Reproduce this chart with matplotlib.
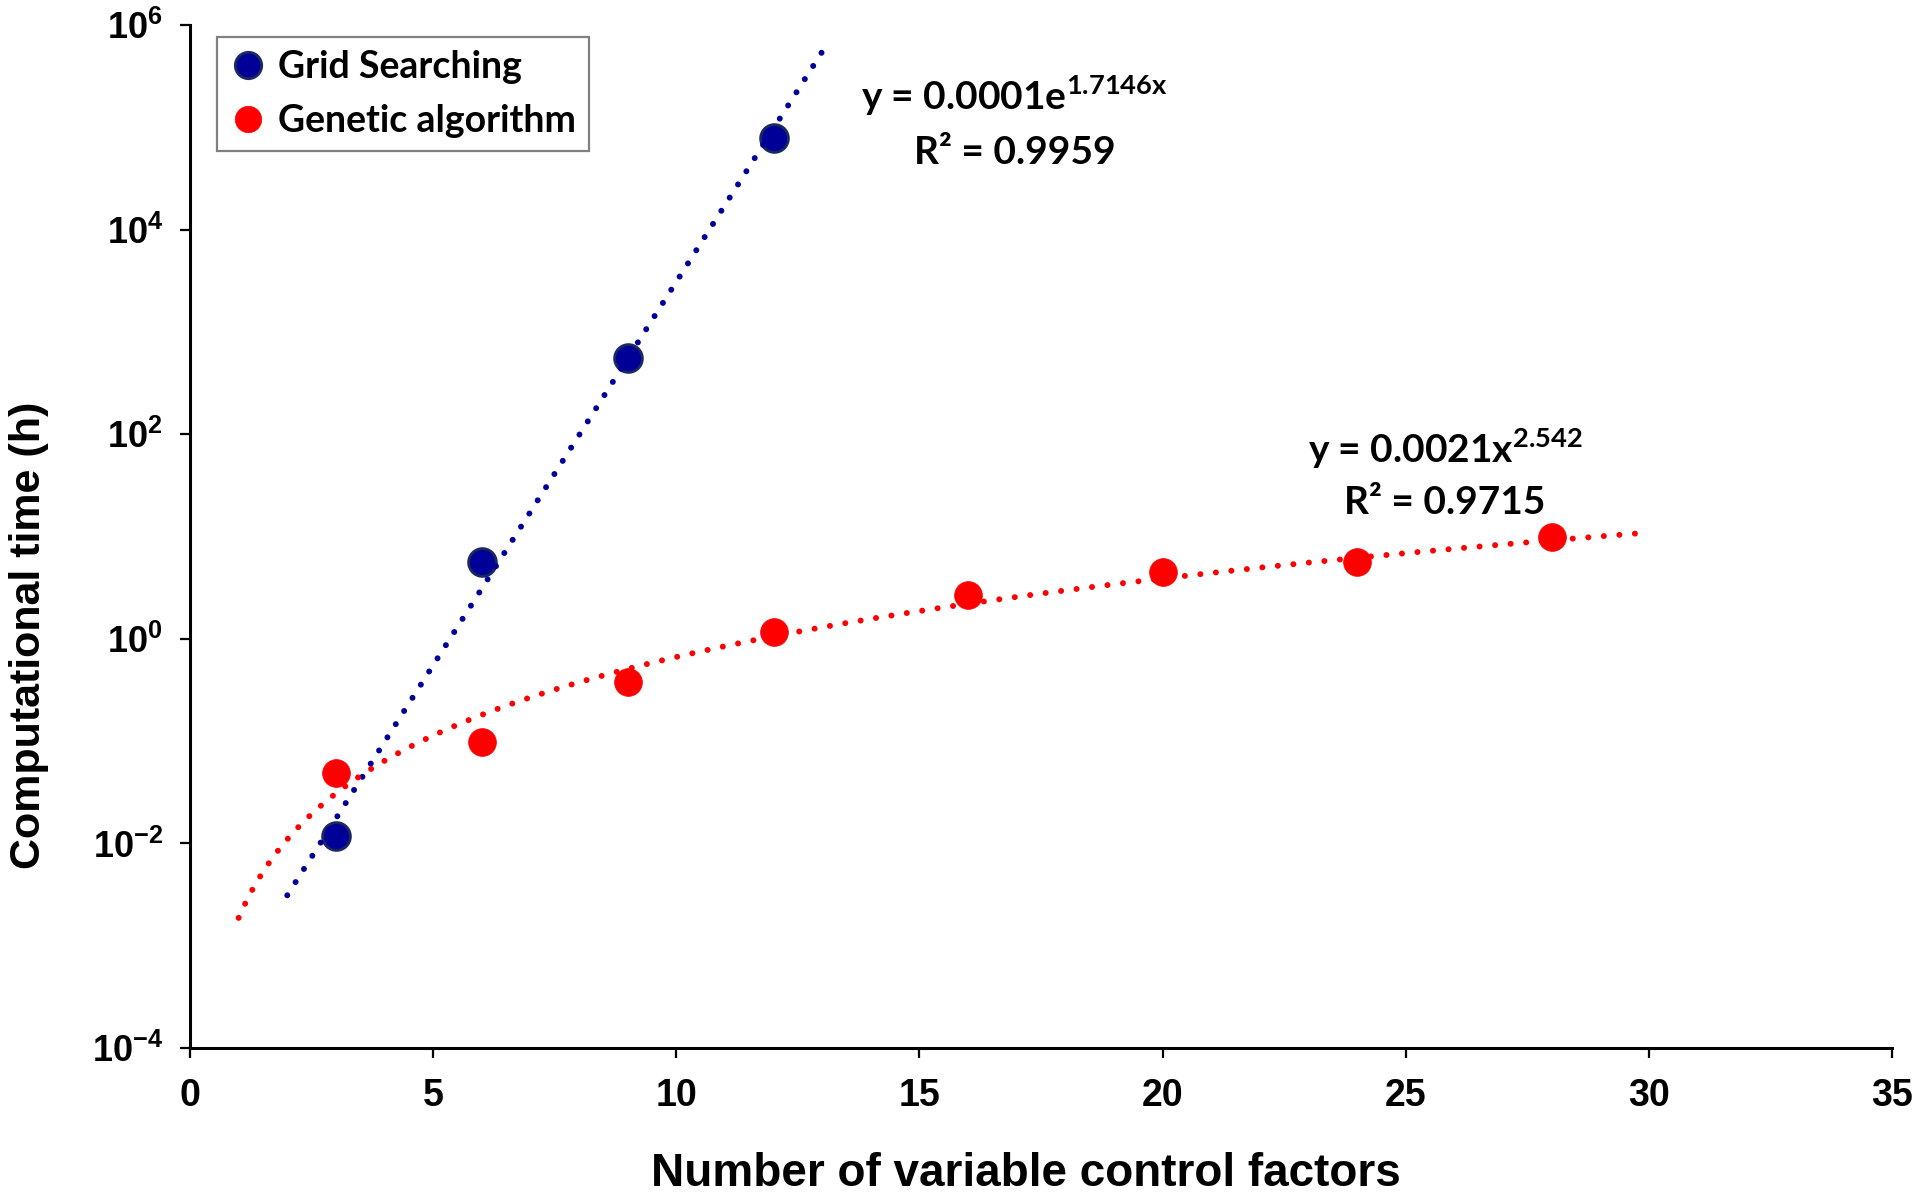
import numpy as np
import matplotlib
matplotlib.use("Agg")
import matplotlib.pyplot as plt
from matplotlib.ticker import NullLocator, LogFormatterSciNotation

# ---- data ----
grid_factors = [3, 6, 9, 12]
grid_hours = [0.0117, 5.6, 560, 79000]

ga_factors = [3, 6, 9, 12, 16, 20, 24, 28]
ga_hours = [0.049, 0.098, 0.38, 1.17, 2.7, 4.5, 5.6, 10.0]

grid_trend_range = (2, 13)
ga_trend_range = (1, 30)

grid_eq = ["y = 0.0001e$^{\\mathdefault{1.7146x}}$", "R\u00b2 = 0.9959"]
ga_eq = ["y = 0.0021x$^{\\mathdefault{2.542}}$", "R\u00b2 = 0.9715"]

x_ticks = [0, 5, 10, 15, 20, 25, 30, 35]
y_ticks = [1e-4, 1e-2, 1e0, 1e2, 1e4, 1e6]

BLUE = "#000099"
BLUE_EDGE = "#1b2a5c"
RED = "#ff0000"
AX_FONT = "Liberation Sans"
EQ_FONT = "Lato"

# ---- trendlines fitted from the points (Excel style) ----
b_exp, ln_a_exp = np.polyfit(grid_factors, np.log(grid_hours), 1)
xg = np.linspace(*grid_trend_range, 200)
yg = np.exp(ln_a_exp) * np.exp(b_exp * xg)

p_pow, ln_a_pow = np.polyfit(np.log(ga_factors), np.log(ga_hours), 1)
xr = np.linspace(*ga_trend_range, 300)
yr = np.exp(ln_a_pow) * xr ** p_pow

fig = plt.figure(figsize=(19.2, 12.02), dpi=100)
ax = fig.add_axes([190 / 1920, 1 - 1048 / 1202, 1702 / 1920, 1023 / 1202])

dots = dict(linestyle=(0, (0.01, 2.6)), linewidth=4.3, dash_capstyle="round", zorder=4)
ax.plot(xg, yg, color=BLUE, **dots)
ax.plot(xr, yr, color=RED, **dots)

ax.plot(grid_factors, grid_hours, "o", ms=20, mfc=BLUE, mec=BLUE_EDGE, mew=2,
        linestyle="none", zorder=3, label="Grid Searching")
ax.plot(ga_factors, ga_hours, "o", ms=20, mfc=RED, mec=RED, mew=0.5,
        linestyle="none", zorder=3, label="Genetic algorithm")

ax.set_yscale("log")
ax.set_xlim(0, 35)
ax.set_ylim(1e-4, 1e6)
ax.set_xticks(x_ticks)
ax.set_yticks(y_ticks)
ax.yaxis.set_minor_locator(NullLocator())
ax.yaxis.set_major_formatter(LogFormatterSciNotation())

for s in ["top", "right"]:
    ax.spines[s].set_visible(False)
for s in ["left", "bottom"]:
    ax.spines[s].set_linewidth(2.2)
    ax.spines[s].set_color("black")

ax.tick_params(axis="both", direction="out", length=7.5, width=1.6, color="black")
ax.tick_params(axis="x", pad=14, labelsize=27)
ax.tick_params(axis="y", pad=12, labelsize=26)
for lab in ax.get_xticklabels() + ax.get_yticklabels():
    lab.set_fontfamily(AX_FONT)
    lab.set_fontweight("bold")

ax.set_xlabel("Number of variable control factors", fontfamily=AX_FONT,
              fontweight="bold", fontsize=33)
ax.xaxis.set_label_coords(0.491, -0.102)
ax.set_ylabel("Computational time (h)", fontfamily=AX_FONT,
              fontweight="bold", fontsize=31)
ax.yaxis.set_label_coords(-0.083, 0.403)

leg = ax.legend(loc="upper left", bbox_to_anchor=(0.0159, 0.988),
                prop={"family": EQ_FONT, "weight": "bold", "size": 27},
                frameon=True, fancybox=False, framealpha=1, edgecolor="#808080",
                borderpad=0.33, labelspacing=0.55, handlelength=1.0,
                handletextpad=0.3, borderaxespad=0, markerscale=0.95)
leg.get_frame().set_linewidth(1.6)

eq_style = dict(transform=fig.transFigure, ha="center", va="baseline",
                fontfamily=EQ_FONT, fontweight="bold", fontsize=28)
fig.text(1014 / 1920, 1 - 110 / 1202, grid_eq[0], **eq_style)
fig.text(1015 / 1920, 1 - 164 / 1202, grid_eq[1], **eq_style)
fig.text(1445 / 1920, 1 - 463 / 1202, ga_eq[0], **eq_style)
fig.text(1445 / 1920, 1 - 514 / 1202, ga_eq[1], **eq_style)

fig.savefig("out.png", dpi=100)
